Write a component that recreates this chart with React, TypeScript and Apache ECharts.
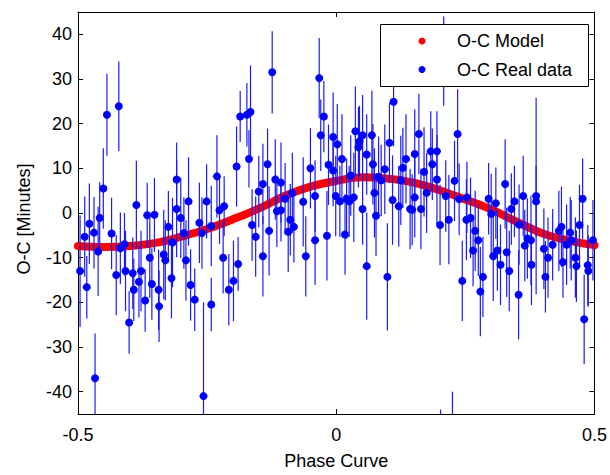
import React, { useEffect, useRef } from "react";
import * as echarts from "echarts";

// Model O-C curve (phase, minutes)
const modelPhase = [-0.5, -0.45, -0.4, -0.35, -0.3, -0.25, -0.2, -0.15, -0.1, -0.05, 0, 0.05, 0.1, 0.15, 0.2, 0.25, 0.3, 0.35, 0.4, 0.45, 0.5];
const modelOC = [-7.4, -7.6, -7.4, -6.7, -5.3, -3.6, -1.4, 1.0, 3.8, 5.9, 7.2, 8.0, 7.7, 6.8, 5.1, 3.0, 0.8, -2.0, -4.6, -6.2, -7.2];

// Real O-C data: phase, value, error (minutes)
const phase = [
  -0.496, -0.487, -0.483, -0.478, -0.469, -0.467, -0.461, -0.458, -0.451, -0.444,
  -0.435, -0.426, -0.421, -0.418, -0.410, -0.408, -0.401, -0.394, -0.392, -0.387,
  -0.382, -0.378, -0.370, -0.366, -0.361, -0.357, -0.352, -0.344, -0.343, -0.334,
  -0.331, -0.325, -0.319, -0.317, -0.309, -0.309, -0.301, -0.295, -0.291, -0.286,
  -0.282, -0.274, -0.265, -0.260, -0.257, -0.251, -0.242, -0.242, -0.231, -0.226,
  -0.219, -0.217, -0.208, -0.199, -0.193, -0.190, -0.186, -0.173, -0.169, -0.166,
  -0.163, -0.156, -0.150, -0.142, -0.142, -0.133, -0.130, -0.124, -0.118, -0.115,
  -0.107, -0.107, -0.099, -0.093, -0.089, -0.085, -0.082, -0.064, -0.059, -0.050,
  -0.041, -0.041, -0.033, -0.030, -0.024, -0.018, -0.015, -0.006, -0.006, -0.001,
  0.002, 0.007, 0.011, 0.017, 0.020, 0.025, 0.028, 0.034, 0.037, 0.043,
  0.045, 0.051, 0.051, 0.059, 0.059, 0.069, 0.071, 0.074, 0.077, 0.082,
  0.087, 0.094, 0.099, 0.103, 0.109, 0.111, 0.121, 0.125, 0.129, 0.135,
  0.143, 0.147, 0.152, 0.152, 0.160, 0.164, 0.170, 0.175, 0.183, 0.186,
  0.195, 0.195, 0.201, 0.208, 0.212, 0.218, 0.229, 0.235, 0.238, 0.244,
  0.252, 0.253, 0.260, 0.265, 0.269, 0.275, 0.279, 0.284, 0.295, 0.300,
  0.304, 0.309, 0.312, 0.318, 0.327, 0.330, 0.335, 0.339, 0.345, 0.353,
  0.354, 0.362, 0.365, 0.370, 0.377, 0.378, 0.387, 0.387, 0.402, 0.405,
  0.410, 0.419, 0.431, 0.436, 0.439, 0.446, 0.453, 0.455, 0.463, 0.465,
  0.471, 0.477, 0.480, 0.487, 0.488, 0.497, 0.202, 0.225
];
const ocReal = [
  -13.0, -5.3, -16.6, -2.4, -4.4, -37.0, -8.6, -1.1, 5.5, 22.0,
  -4.6, -13.9, 23.9, -7.9, -7.0, -13.0, -24.5, -13.5, -17.2, 1.8,
  -15.4, -13.0, -19.6, -0.5, -10.0, -15.9, -0.4, -17.2, -20.9, -9.3,
  -10.6, -3.1, -14.6, -6.6, 7.5, 0.9, -1.1, -4.5, -10.6, 2.6,
  -16.1, -19.4, -2.2, -4.5, -41.0, 2.6, -2.9, -20.5, 8.2, 0.6,
  -10.0, 1.5, -17.2, -15.2, 10.4, -11.4, 21.6, 22.0, 12.1, 22.6,
  -2.7, -5.3, 4.8, 6.5, -9.7, 10.9, -4.0, 31.5, 7.5, 0.4,
  6.8, 0.6, 3.2, -4.2, -1.5, 4.5, -3.1, 2.5, -9.7, 10.0,
  3.8, -6.1, 30.2, 17.4, 21.6, -5.1, 10.8, 17.0, 9.5, 3.8,
  15.4, 2.6, 12.1, -4.8, 3.2, 2.6, 8.4, 3.5, 18.3, 14.7,
  16.0, 17.4, 0.9, 13.1, -11.9, 17.4, 10.9, 4.5, -0.6, 8.1,
  7.3, 9.8, -14.3, 15.7, 2.9, 24.9, 1.5, 7.3, 10.1, 12.1,
  0.9, 0.7, 13.2, 3.5, 17.7, 0.9, 9.2, 4.5, 13.8, 10.9,
  13.8, 7.5, -2.7, 34.0, 3.8, -1.5, 7.2, 17.7, 3.1, -15.2,
  -1.5, 3.5, -1.1, -8.4, -4.0, -6.1, -17.6, -14.3, 3.2, -0.2,
  -9.7, 2.2, -8.4, -11.6, 6.5, -8.8, -13.0, 0.9, 2.6, -18.3,
  -2.6, 3.8, -7.3, -5.7, -6.1, -11.6, 3.8, 2.6, -8.0, -14.3,
  -10.0, -7.1, -4.0, -3.1, -11.0, -7.1, -4.4, -6.1, -10.0, -11.9,
  -2.7, 3.2, -23.8, -11.7, -13.0, -6.1, -53.0, -50.0
];
const ocErr = [
  12.5, 9, 7, 9, 8, 10, 10, 8, 9, 9.2,
  8, 9, 10, 8, 7, 9, 7, 8, 7, 9.9,
  8, 9, 7, 7.3, 9, 8, 8.3, 9, 8, 10,
  9, 8, 9, 10, 8.3, 10.8, 9, 8, 9, 9.9,
  8, 7, 9, 8, 21, 8.3, 9, 6, 9.2, 7.5,
  8, 6.7, 8, 9, 9, 6, 5.7, 7.1, 6.4, 10.4,
  8, 9, 8, 9, 9, 8, 10, 9.2, 9, 8,
  9, 7, 8, 9, 8, 9, 8, 10, 9, 9,
  8, 10, 9, 8, 8, 10, 9, 10, 8, 9,
  9, 8, 10, 9, 9, 8, 9, 10, 10, 9,
  8, 9, 8, 9, 12, 10, 9, 10, 9, 9,
  8, 10, 12, 9, 10, 10, 9, 10, 9, 10,
  9, 8, 10, 9, 9, 9, 10, 9, 9, 8,
  9, 10, 9, 10, 8, 10, 9, 10, 8, 9,
  9, 8, 9, 8, 9, 8, 10, 9, 8, 9,
  10, 8, 9, 9, 10, 10, 9, 8, 8, 10,
  9, 9, 8, 9, 10, 9, 22, 8, 9, 8,
  9, 8, 9, 9, 8, 9, 8, 9, 9, 8,
  9, 9, 10, 9, 8, 9, 9, 10
];

const yTicks = [-40, -30, -20, -10, 0, 10, 20, 30, 40];
const legendNames = ["O-C Model", "O-C Real data"];
const legendColors = ["#ff0000", "#0000ff"];
const FONT = "'Liberation Sans', Arial, Helvetica, sans-serif";

export default function App() {
  const ref = useRef<HTMLDivElement>(null);
  useEffect(() => {
    if (!ref.current) return;
    const chart = echarts.init(ref.current, null, { renderer: "svg" });
    const realData = phase.map((p, i) => [p, ocReal[i], ocErr[i]]);
    const modelData = modelPhase.map((p, i) => [p, modelOC[i]]);
    const axisLine = { show: true, onZero: false, lineStyle: { color: "#000", width: 1 } };
    const tick = { show: true, inside: true, length: 5, lineStyle: { color: "#000", width: 1 } };

    const legendGraphics: any[] = [
      {
        type: "rect",
        z: 100,
        shape: { x: 380.5, y: 24.5, width: 208, height: 62 },
        style: { fill: "#fff", stroke: "#000", lineWidth: 1 },
      },
    ];
    legendNames.forEach((n, i) => {
      const cy = 41 + i * 28.5;
      legendGraphics.push({
        type: "circle",
        z: 101,
        shape: { cx: 422, cy, r: 3.5 },
        style: { fill: legendColors[i] },
      });
      legendGraphics.push({
        type: "text",
        z: 101,
        x: 457,
        y: cy,
        style: {
          text: n,
          fill: "#000",
          fontSize: 18,
          fontFamily: FONT,
          verticalAlign: "middle",
          align: "left",
        },
      });
    });

    chart.setOption({
      animation: false,
      backgroundColor: "#fff",
      textStyle: { fontFamily: FONT },
      grid: { left: 78, top: 12, right: 11, bottom: 53, containLabel: false },
      graphic: legendGraphics,
      xAxis: [
        {
          type: "value",
          min: -0.5,
          max: 0.5,
          interval: 0.5,
          position: "bottom",
          name: "Phase Curve",
          nameLocation: "middle",
          nameGap: 38,
          nameTextStyle: { fontSize: 18, color: "#000", fontFamily: FONT, verticalAlign: "top" },
          axisLine,
          axisTick: tick,
          axisLabel: { fontSize: 18, color: "#000", margin: 12, fontFamily: FONT },
          splitLine: { show: false },
        },
        {
          type: "value",
          min: -0.5,
          max: 0.5,
          interval: 0.5,
          position: "top",
          axisLine,
          axisTick: tick,
          axisLabel: { show: false },
          splitLine: { show: false },
        },
      ],
      yAxis: [
        {
          type: "value",
          min: -45,
          max: 45,
          position: "left",
          name: "O-C [Minutes]",
          nameLocation: "middle",
          nameGap: 45,
          nameRotate: 90,
          nameTextStyle: { fontSize: 18, color: "#000", fontFamily: FONT, padding: [0, 12, 0, 0] },
          axisLine,
          axisTick: { ...tick, customValues: yTicks },
          axisLabel: { fontSize: 18, color: "#000", margin: 6, fontFamily: FONT, customValues: yTicks },
          splitLine: { show: false },
        },
        {
          type: "value",
          min: -45,
          max: 45,
          position: "right",
          axisLine,
          axisTick: { ...tick, customValues: yTicks },
          axisLabel: { show: false, customValues: yTicks },
          splitLine: { show: false },
        },
      ],
      series: [
        {
          name: "O-C Model",
          type: "line",
          data: modelData,
          smooth: 0.4,
          showSymbol: false,
          symbol: "circle",
          color: "#ff0000",
          lineStyle: { color: "#ff0000", width: 8, cap: "round", join: "round" },
          z: 1,
          clip: true,
        },
        {
          name: "errbars",
          type: "custom",
          data: realData,
          clip: true,
          z: 2,
          encode: { x: 0, y: 1 },
          renderItem: (params: any, api: any) => {
            const x = api.value(0);
            const y = api.value(1);
            const e = api.value(2);
            const p1 = api.coord([x, y - e]);
            const p2 = api.coord([x, y + e]);
            return {
              type: "line",
              shape: { x1: p1[0], y1: p1[1], x2: p2[0], y2: p2[1] },
              style: { stroke: "#1a1aff", lineWidth: 1.2 },
            };
          },
        },
        {
          name: "O-C Real data",
          type: "scatter",
          data: realData,
          symbol: "circle",
          symbolSize: 8,
          color: "#0000ff",
          itemStyle: { color: "#0000ff", opacity: 1 },
          z: 3,
          clip: true,
        },
      ],
    });
    return () => chart.dispose();
  }, []);
  return (
    <div
      ref={ref}
      style={{ position: "fixed", left: 0, top: 0, width: 610, height: 475, background: "#fff" }}
    />
  );
}
